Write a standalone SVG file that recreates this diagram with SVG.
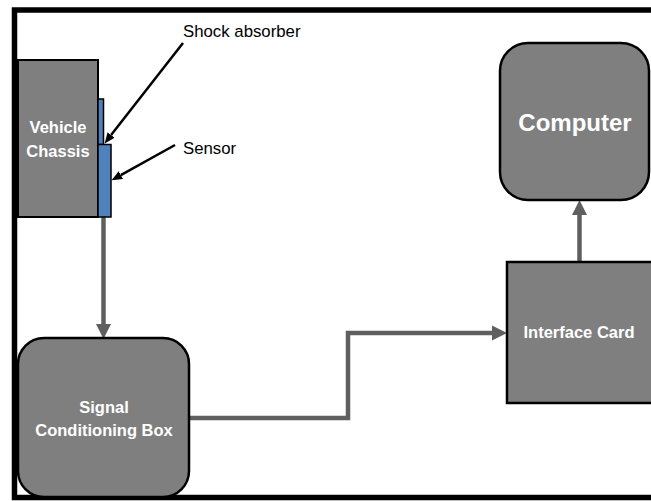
<svg xmlns="http://www.w3.org/2000/svg" width="651" height="501" viewBox="0 0 651 501">
  <style>
    .box { fill: #7f7f7f; stroke: #000; stroke-width: 2.5; }
    .thin { fill: #7f7f7f; stroke: #000; stroke-width: 2; }
    .part { fill: #4f81bd; stroke: #000; stroke-width: 1.5; }
    .lbl { font-family: "Liberation Sans", Arial, sans-serif; font-weight: bold; fill: #fff; text-anchor: middle; }
    .note { font-family: "Liberation Sans", Arial, sans-serif; font-size: 16.8px; fill: #000; }
    .flow { fill: none; stroke: #5f5f5f; stroke-width: 4.5; stroke-linejoin: miter; marker-end: url(#grayHead); }
    .pointer { fill: none; stroke: #000; stroke-width: 2.5; marker-end: url(#blackHead); }
  </style>
  <defs>
    <marker id="grayHead" markerUnits="userSpaceOnUse" markerWidth="16" markerHeight="16" refX="0" refY="8" orient="auto" viewBox="0 0 16 16">
      <path d="M0,0.5 L15,8 L0,15.5 z" fill="#5f5f5f"/>
    </marker>
    <marker id="blackHead" markerUnits="userSpaceOnUse" markerWidth="11" markerHeight="10" refX="0" refY="5" orient="auto" viewBox="0 0 11 10">
      <path d="M0,0.5 L10.5,5 L0,9.5 z" fill="#000"/>
    </marker>
  </defs>

  <rect x="0" y="0" width="651" height="501" fill="#fff"/>
  <!-- outer frame -->
  <rect x="14.5" y="10" width="660" height="487.5" fill="none" stroke="#000" stroke-width="5.5"/>

  <!-- connectors -->
  <g id="connectors">
    <path class="flow" d="M103.5,217 V324"/>
    <path class="flow" d="M189,418 H348 V333 H492"/>
    <path class="flow" d="M579.5,262 V215"/>
    <path class="pointer" d="M183,43 L111.1,135.1"/>
    <path class="pointer" d="M175,145 L120.8,175.1"/>
  </g>

  <g id="vehicle-chassis">
    <rect class="thin" x="18" y="60" width="80" height="157"/>
    <text class="lbl" x="58" y="133" font-size="16.5">Vehicle</text>
    <text class="lbl" x="58" y="157" font-size="16.5">Chassis</text>
  </g>

  <g id="shock-absorber">
    <rect class="part" x="98" y="99" width="5.5" height="45.5"/>
    <text class="note" x="183" y="37">Shock absorber</text>
  </g>

  <g id="sensor">
    <rect class="part" x="98" y="144.5" width="13" height="72.5"/>
    <text class="note" x="183" y="154">Sensor</text>
  </g>

  <g id="signal-conditioning-box">
    <rect class="box" x="18" y="338" width="171" height="159" rx="26" ry="26"/>
    <text class="lbl" x="104" y="413" font-size="16.5">Signal</text>
    <text class="lbl" x="104" y="436" font-size="16.5">Conditioning Box</text>
  </g>

  <g id="interface-card">
    <rect class="box" x="507" y="262" width="150" height="141"/>
    <text class="lbl" x="579" y="338" font-size="16.5">Interface Card</text>
  </g>

  <g id="computer">
    <rect class="box" x="500" y="43" width="149" height="157" rx="28" ry="28"/>
    <text class="lbl" x="575" y="131" font-size="24">Computer</text>
  </g>
</svg>
